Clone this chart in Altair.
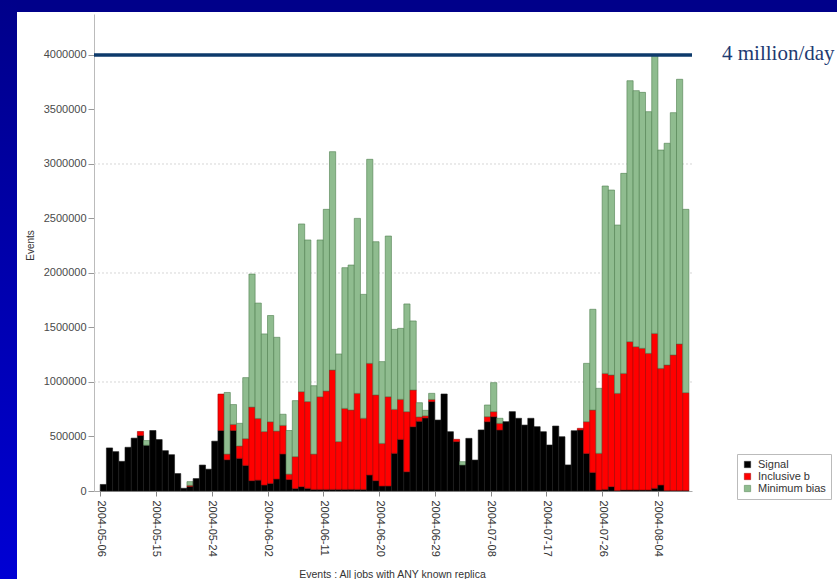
import json
import altair as alt
import pandas as pd

# Daily event counts per production stream, first bar = 2004-05-06
signal = [
    60000, 395000, 361000, 272000, 401000, 485000, 509000, 420000, 555000, 472000,
    370000, 333000, 160000, 25000, 43000, 114000, 238000, 200000, 457000, 555000,
    287000, 555000, 300000, 235000, 95000, 100000, 55000, 70000, 110000, 340000,
    105000, 24000, 40000, 25000, 15000, 15000, 15000, 15000, 15000, 15000,
    15000, 15000, 15000, 147000, 95000, 46000, 46000, 346000, 474000, 177000,
    590000, 640000, 670000, 820000, 651000, 890000, 544000, 453000, 239000, 483000,
    284000, 560000, 636000, 682000, 560000, 636000, 728000, 667000, 605000, 667000,
    590000, 544000, 422000, 596000, 498000, 239000, 553000, 560000, 345000, 171000,
    10000, 15000, 40000, 5000, 10000, 10000, 10000, 10000, 10000, 25000,
    55000, 5000, 5000, 5000, 5000,
]
inclusive_b = [
    0, 0, 0, 0, 0, 0, 37000, 0, 0, 0,
    0, 0, 0, 0, 9000, 0, 0, 0, 0, 334000,
    52000, 56000, 113000, 245000, 675000, 566000, 490000, 565000, 440000, 262000,
    50000, 291000, 871000, 795000, 324000, 850000, 902000, 1095000, 438000, 743000,
    728000, 881000, 652000, 1024000, 786000, 391000, 819000, 403000, 367000, 551000,
    337000, 40000, 20000, 20000, 0, 0, 0, 21000, 0, 0,
    0, 0, 46000, 46000, 61000, 0, 0, 0, 0, 0,
    0, 0, 0, 0, 0, 0, 0, 15000, 291000, 572000,
    336000, 1064000, 1024000, 891000, 1069000, 1360000, 1314000, 1299000, 1253000, 1421000,
    1070000, 1151000, 1243000, 1344000, 897000,
]
minimum_bias = [
    0, 0, 0, 0, 0, 0, 0, 43000, 0, 0,
    0, 0, 0, 0, 34000, 0, 0, 0, 0, 0,
    565000, 182000, 208000, 560000, 1220000, 1058000, 896000, 975000, 860000, 102000,
    400000, 514000, 1539000, 1483000, 627000, 1438000, 1667000, 2003000, 804000, 1291000,
    1330000, 1605000, 1137000, 1872000, 1406000, 750000, 1474000, 734000, 651000, 988000,
    633000, 130000, 50000, 56000, 0, 0, 0, 0, 30000, 0,
    0, 0, 107000, 266000, 46000, 0, 0, 0, 0, 0,
    0, 0, 0, 0, 0, 0, 0, 0, 535000, 924000,
    596000, 1719000, 1697000, 1544000, 1835000, 2394000, 2349000, 2348000, 2217000, 2554000,
    2003000, 2034000, 2223000, 2428000, 1682000,
]

tick_labels = [
    "2004-05-06", "2004-05-15", "2004-05-24", "2004-06-02", "2004-06-11", "2004-06-20",
    "2004-06-29", "2004-07-08", "2004-07-17", "2004-07-26", "2004-08-04",
]
tick_step = 9
series_names = ["Signal", "Inclusive b", "Minimum bias"]
series_fill = ["#000000", "#ff0000", "#8fbc8f"]
series_edge = ["#1a1a1a", "#a00000", "#4f7f4f"]
grid_levels = [1000000, 2000000, 3000000]
target_level = [4000000]
target_text = ["4 million/day"]
y_ticks = [0, 500000, 1000000, 1500000, 2000000, 2500000, 3000000, 3500000, 4000000]

# Stack the three streams for each day
rows = []
for day, parts in enumerate(zip(signal, inclusive_b, minimum_bias)):
    base = 0
    for name, v in zip(series_names, parts):
        if v > 0:
            rows.append({"day": day, "day_end": day + 1, "series": name,
                         "lo": base, "hi": base + v})
        base += v
bars_df = pd.DataFrame(rows)

W, H = 598, 477
PAD = {"left": 94, "top": 14, "right": 145, "bottom": 88}

x_scale = alt.Scale(domain=[-1, 95.5], nice=False, zero=False)
y_scale = alt.Scale(domain=[0, 4376000], nice=False)

x_axis = alt.Axis(
    values=list(range(0, tick_step * len(tick_labels), tick_step)),
    labelExpr=f"{json.dumps(tick_labels)}[round(datum.value / {tick_step})]",
    labelAngle=90, labelFontSize=11, labelColor="#333", labelPadding=4,
    labelFlush=False, labelOverlap=False,
    tickSize=5, tickColor="#888", domainColor="#aaa", grid=False,
    title="Events : All jobs with ANY known replica",
    titleFontSize=10.5, titleFontWeight="normal", titleColor="#333",
    titleX=W / 2 - 1, titleY=83, titleBaseline="middle", titleAlign="center",
)
y_axis = alt.Axis(
    values=y_ticks, format="d", labelFontSize=11, labelColor="#4a4a4a",
    labelPadding=2, tickSize=6, tickColor="#999", domainColor="#bbb", grid=False,
    title="Events", titleFontSize=10, titleFontWeight="normal", titleColor="#333",
    titleAngle=270, titleX=-64, titleY=231, titleBaseline="middle", titleAlign="center",
)

bars = alt.Chart(bars_df).mark_rect(strokeWidth=0.6).encode(
    x=alt.X("day:Q", scale=x_scale, axis=x_axis),
    x2="day_end:Q",
    y=alt.Y("lo:Q", scale=y_scale, axis=y_axis),
    y2="hi:Q",
    color=alt.Color(
        "series:N",
        scale=alt.Scale(domain=series_names, range=series_fill),
        legend=alt.Legend(
            orient="none", legendX=643, legendY=440, title=None,
            symbolType="square", symbolSize=40, symbolStrokeWidth=0.5,
            labelFontSize=11, labelColor="#333", labelOffset=5,
            rowPadding=0, padding=5, strokeColor="#bbb", fillColor="white",
        ),
    ),
    stroke=alt.Stroke("series:N",
                      scale=alt.Scale(domain=series_names, range=series_edge),
                      legend=None),
)

grid = alt.Chart(pd.DataFrame({"lo": grid_levels})).mark_rule(
    color="#d6d6d6", strokeDash=[2, 2], strokeWidth=1
).encode(y=alt.Y("lo:Q", scale=y_scale, axis=y_axis))

target = alt.Chart(pd.DataFrame({"lo": target_level})).mark_rule(
    color="#0d3a6b", strokeWidth=3.5
).encode(y=alt.Y("lo:Q", scale=y_scale, axis=y_axis))

target_label = alt.Chart(pd.DataFrame({"t": target_text})).mark_text(
    font="Liberation Serif", fontSize=21, color="#1d3a72", align="left", baseline="middle"
).encode(x=alt.value(628), y=alt.value(40), text="t:N")

one = pd.DataFrame({"k": [0]})
top_band = alt.Chart(one).mark_rect(color="#00008a").encode(
    x=alt.value(-PAD["left"]), x2=alt.value(W + PAD["right"]),
    y=alt.value(-PAD["top"]), y2=alt.value(12 - PAD["top"]),
)
left_band = alt.Chart(one).mark_rect(
    color=alt.LinearGradient(
        gradient="linear",
        stops=[alt.GradientStop(color="#00008a", offset=0),
               alt.GradientStop(color="#0000d4", offset=1)],
        x1=0, x2=0, y1=0, y2=1,
    )
).encode(
    x=alt.value(-PAD["left"]), x2=alt.value(17 - PAD["left"]),
    y=alt.value(-PAD["top"]), y2=alt.value(H + PAD["bottom"]),
)

chart = alt.layer(top_band, left_band, grid, bars, target, target_label).properties(
    width=W, height=H, padding=PAD,
    autosize=alt.AutoSizeParams(type="none"),
    background="white",
).configure(font="Liberation Sans").configure_view(stroke=None)

chart.save("out.html", embed_options={"renderer": "svg", "actions": False})
